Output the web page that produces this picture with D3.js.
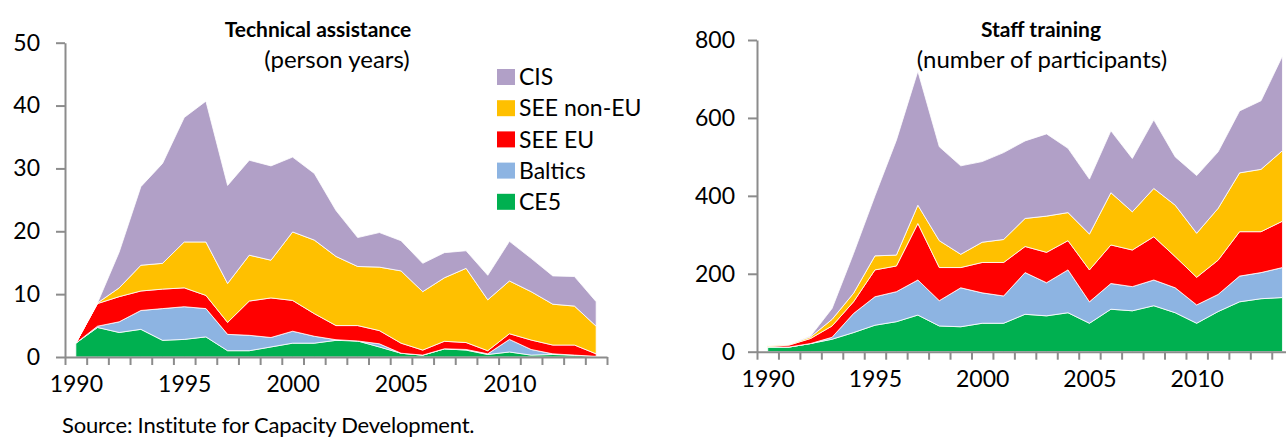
<!DOCTYPE html>
<html>
<head>
<meta charset="utf-8">
<script src="https://cdn.jsdelivr.net/npm/d3@7"></script>
<style>
  body { margin: 0; background: #fff; }
  svg { display: block; font-family: Lato, "Open Sans", sans-serif; }
  .axis path, .axis line { stroke: #8c8c8c; stroke-width: 2; }
  .axis text { font-size: 23px; fill: #000; font-family: Lato, sans-serif; }
</style>
</head>
<body>
<svg id="chart" width="1286" height="438"></svg>
<script>
var years = d3.range(1990, 2015);
var keys = ["CE5", "Baltics", "SEE EU", "SEE non-EU", "CIS"];
var colors = {"CE5": "#00b050", "Baltics": "#8db4e2", "SEE EU": "#ff0000", "SEE non-EU": "#ffc000", "CIS": "#b1a0c7"};
var labelYears = [1990, 1995, 2000, 2005, 2010];

// technical assistance, person years
var ta_ce5     = [2.2, 4.7, 3.9, 4.4, 2.65, 2.8, 3.2, 1.0, 1.0, 1.6, 2.2, 2.2, 2.65, 2.55, 1.6, 0.6, 0.3, 1.3, 1.1, 0.4, 0.8, 0.3, 0.4, 0.3, 0.1];
var ta_baltics = [0, 0.2, 1.7, 3.0, 5.05, 5.2, 4.5, 2.6, 2.45, 1.5, 1.9, 1.1, 0.1, 0, 0.5, 0, 0, 0, 0.1, 0.1, 2.0, 0.9, 0.1, 0, 0];
var ta_seeeu   = [0, 3.6, 4.0, 3.1, 3.1, 3.0, 2.1, 1.9, 5.45, 6.3, 4.9, 3.6, 2.25, 2.45, 2.1, 1.6, 0.8, 1.2, 1.1, 0.5, 0.9, 1.5, 1.4, 1.6, 0.4];
var ta_seenon  = [0, 0.1, 1.4, 4.1, 4.1, 7.3, 8.5, 6.2, 7.3, 6.0, 10.9, 11.7, 11.0, 9.4, 10.1, 11.5, 9.3, 10.1, 11.8, 8.1, 8.4, 7.7, 6.5, 6.2, 4.4];
var ta_cis     = [0, 0, 5.7, 12.5, 15.9, 19.8, 22.4, 15.6, 15.1, 15.0, 11.9, 10.6, 7.3, 4.6, 5.5, 4.8, 4.5, 4.0, 2.8, 3.9, 6.3, 5.3, 4.5, 4.7, 3.9];
var ta_ticks   = [0, 10, 20, 30, 40, 50];

// staff training, number of participants
var st_ce5     = [12, 12, 21, 32, 49, 68, 77, 94, 66, 64, 73, 73, 96, 92, 100, 73, 109, 105, 118, 100, 73, 103, 128, 136, 139];
var st_baltics = [0, 0, 0, 5, 49, 73, 77, 90, 65, 100, 78, 70, 107, 85, 110, 55, 66, 62, 66, 64, 47, 44, 66, 67, 77];
var st_seeeu   = [1, 5, 13, 29, 30, 69, 66, 145, 85, 52, 78, 86, 67, 78, 75, 82, 99, 94, 111, 80, 71, 88, 114, 105, 119];
var st_seenon  = [3, 2, 4, 17, 22, 36, 28, 47, 69, 34, 52, 59, 72, 93, 72, 92, 134, 98, 124, 132, 113, 133, 151, 160, 181];
var st_cis     = [0, 0, 2, 28, 102, 154, 295, 344, 241, 227, 207, 223, 199, 211, 165, 141, 159, 137, 176, 124, 148, 145, 159, 176, 243];
var st_ticks   = [0, 200, 400, 600, 800];

var svg = d3.select("#chart");

function toRows(series) {
    return years.map(function(y, i) {
        var row = {year: y};
        keys.forEach(function(k, j) { row[k] = series[j][i]; });
        return row;
    });
}

function drawPanel(o) {
    var x = d3.scaleLinear().domain([1989.5, 2014.5]).range([o.x0, o.x1]);
    var y = d3.scaleLinear().domain([0, o.ymax]).range([o.y0, o.y1]);
    var g = svg.append("g");

    var stacked = d3.stack().keys(keys)(toRows(o.series));
    var area = d3.area()
        .x(function(d) { return x(d.data.year); })
        .y0(function(d) { return y(d[0]); })
        .y1(function(d) { return y(d[1]); });

    g.selectAll("path.layer")
        .data(stacked)
        .enter()
        .append("path")
        .attr("class", "layer")
        .attr("d", area)
        .attr("fill", function(d) { return colors[d.key]; })
        .attr("stroke", "#fff")
        .attr("stroke-width", 0.8)
        .attr("stroke-linejoin", "round");

    // tick marks between the years
    g.append("g").attr("class", "axis")
        .attr("transform", "translate(0," + o.y0 + ")")
        .call(d3.axisBottom(x).tickValues(d3.range(1989.5, 2015, 1)).tickFormat("").tickSize(8).tickSizeOuter(0));
    g.append("g").attr("class", "axis")
        .attr("transform", "translate(0," + o.y0 + ")")
        .call(d3.axisBottom(x).tickValues(labelYears).tickFormat(d3.format("d")).tickSize(0).tickPadding(19))
        .call(function(a) { a.select(".domain").remove(); });

    g.append("g").attr("class", "axis")
        .attr("transform", "translate(" + o.x0 + ",0)")
        .call(d3.axisLeft(y).tickValues(o.ticks).tickSize(9).tickSizeOuter(0).tickPadding(o.pad));

    g.append("text")
        .attr("x", o.tx).attr("y", 37)
        .attr("text-anchor", "middle")
        .attr("font-weight", "bold")
        .attr("font-size", "21px")
        .text(o.title);
    g.append("text")
        .attr("x", o.sx).attr("y", 68)
        .attr("text-anchor", "middle")
        .attr("font-size", "24px")
        .text(o.subtitle);
}

drawPanel({x0: 65, x1: 607, y0: 357, y1: 42.7, ymax: 50, ticks: ta_ticks, pad: 16,
    series: [ta_ce5, ta_baltics, ta_seeeu, ta_seenon, ta_cis],
    title: "Technical assistance", tx: 318, subtitle: "(person years)", sx: 337});
drawPanel({x0: 757, x1: 1293.2, y0: 351.7, y1: 40, ymax: 800, ticks: st_ticks, pad: 13,
    series: [st_ce5, st_baltics, st_seeeu, st_seenon, st_cis],
    title: "Staff training", tx: 1041, subtitle: "(number of participants)", sx: 1042});

// legend, top to bottom
var legend = svg.append("g").attr("transform", "translate(497,69)");
var legItems = legend.selectAll("g")
    .data(keys.slice().reverse())
    .enter()
    .append("g")
    .attr("transform", function(d, i) { return "translate(0," + (i * 31.2) + ")"; });
legItems.append("rect")
    .attr("width", 18).attr("height", 16)
    .attr("fill", function(d) { return colors[d]; });
legItems.append("text")
    .attr("x", 22).attr("y", 8)
    .attr("dy", "0.36em")
    .attr("font-size", "23px")
    .text(function(d) { return d; });

svg.append("text")
    .attr("x", 62).attr("y", 433)
    .attr("font-size", "22px")
    .attr("letter-spacing", "-0.2px")
    .text("Source: Institute for Capacity Development.");
</script>
</body>
</html>
